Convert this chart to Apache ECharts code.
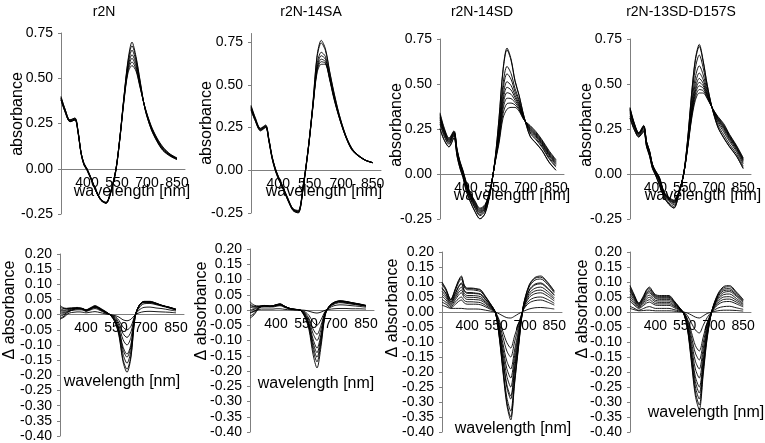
<!DOCTYPE html>
<html>
<head>
<meta charset="utf-8">
<script src="https://cdn.jsdelivr.net/npm/echarts@6/dist/echarts.min.js"></script>
<style>
html,body{margin:0;padding:0;background:#fff;}
#chart{width:765px;height:443px;}
</style>
</head>
<body>
<div id="chart"></div>
<script>
// ---------- DATA ----------
const wavelengths = [270,290,315,340,355,370,385,400,420,445,470,495,520,545,565,585,605,625,645,665,690,720,750,780,815,850];
const panelTitles = ['r2N','r2N-14SA','r2N-14SD','r2N-13SD-D157S'];
const xTickValues = [400,550,700,850];

// absorbance spectra (top row)
const r2N_abs = [
 [0.40,0.33,0.27,0.28,0.21,0.09,0.03,0.00,-0.05,-0.12,-0.17,-0.185,-0.12,0.00,0.18,0.40,0.60,0.70,0.62,0.49,0.33,0.22,0.15,0.10,0.07,0.05],
 [0.395,0.33,0.27,0.28,0.21,0.09,0.03,0.00,-0.05,-0.12,-0.17,-0.187,-0.12,0.00,0.18,0.40,0.59,0.68,0.61,0.485,0.33,0.222,0.153,0.102,0.072,0.052],
 [0.39,0.325,0.265,0.275,0.21,0.09,0.025,0.00,-0.055,-0.12,-0.17,-0.19,-0.12,0.00,0.18,0.395,0.575,0.655,0.595,0.475,0.333,0.226,0.156,0.105,0.074,0.054],
 [0.39,0.32,0.265,0.275,0.205,0.09,0.025,-0.005,-0.055,-0.12,-0.17,-0.19,-0.125,0.00,0.175,0.39,0.56,0.63,0.58,0.468,0.335,0.23,0.16,0.108,0.076,0.055],
 [0.385,0.32,0.26,0.27,0.205,0.09,0.025,-0.005,-0.055,-0.125,-0.175,-0.19,-0.125,-0.005,0.175,0.385,0.55,0.61,0.565,0.46,0.336,0.233,0.163,0.112,0.078,0.057],
 [0.38,0.315,0.26,0.27,0.20,0.085,0.02,-0.005,-0.055,-0.125,-0.175,-0.19,-0.125,-0.005,0.17,0.38,0.54,0.59,0.55,0.455,0.338,0.236,0.167,0.116,0.08,0.058],
 [0.38,0.315,0.26,0.27,0.20,0.085,0.02,-0.01,-0.06,-0.125,-0.175,-0.19,-0.13,-0.01,0.17,0.375,0.53,0.57,0.54,0.45,0.34,0.24,0.17,0.12,0.082,0.06]
];
const r2N_14SA_abs = [
 [0.38,0.31,0.245,0.265,0.185,0.085,0.015,-0.035,-0.09,-0.16,-0.225,-0.235,-0.08,0.15,0.39,0.67,0.76,0.71,0.58,0.46,0.33,0.21,0.13,0.09,0.06,0.045],
 [0.375,0.305,0.245,0.26,0.185,0.08,0.015,-0.035,-0.09,-0.165,-0.225,-0.24,-0.08,0.15,0.385,0.66,0.745,0.70,0.575,0.455,0.328,0.21,0.13,0.09,0.06,0.045],
 [0.37,0.30,0.24,0.26,0.18,0.08,0.01,-0.04,-0.095,-0.165,-0.23,-0.24,-0.085,0.15,0.38,0.62,0.69,0.665,0.555,0.44,0.32,0.205,0.128,0.088,0.06,0.045],
 [0.365,0.30,0.24,0.255,0.18,0.08,0.01,-0.04,-0.095,-0.17,-0.23,-0.245,-0.085,0.145,0.375,0.60,0.67,0.65,0.545,0.435,0.318,0.205,0.126,0.087,0.059,0.044],
 [0.36,0.295,0.235,0.255,0.175,0.075,0.005,-0.045,-0.10,-0.17,-0.23,-0.245,-0.09,0.145,0.37,0.59,0.65,0.635,0.54,0.43,0.315,0.203,0.124,0.086,0.058,0.044],
 [0.355,0.29,0.235,0.25,0.175,0.075,0.005,-0.045,-0.10,-0.17,-0.235,-0.25,-0.09,0.14,0.37,0.58,0.635,0.625,0.535,0.425,0.312,0.202,0.122,0.085,0.058,0.044],
 [0.35,0.29,0.23,0.25,0.17,0.07,0.00,-0.05,-0.10,-0.175,-0.235,-0.25,-0.095,0.14,0.365,0.57,0.62,0.62,0.53,0.42,0.31,0.20,0.12,0.085,0.058,0.044]
];
const r2N_14SD_abs = [
 [0.25,0.19,0.15,0.20,0.10,0.03,-0.02,-0.09,-0.15,-0.21,-0.25,-0.22,-0.11,0.08,0.31,0.58,0.70,0.64,0.52,0.44,0.32,0.21,0.17,0.13,0.065,0.02],
 [0.253,0.192,0.152,0.201,0.101,0.031,-0.019,-0.089,-0.149,-0.208,-0.248,-0.219,-0.109,0.079,0.306,0.572,0.69,0.632,0.515,0.437,0.319,0.212,0.172,0.132,0.067,0.022],
 [0.277,0.211,0.165,0.212,0.112,0.042,-0.008,-0.075,-0.135,-0.192,-0.232,-0.205,-0.104,0.074,0.268,0.499,0.598,0.559,0.475,0.413,0.314,0.228,0.19,0.148,0.085,0.038],
 [0.288,0.219,0.171,0.217,0.117,0.047,-0.003,-0.069,-0.129,-0.185,-0.225,-0.199,-0.102,0.072,0.251,0.467,0.557,0.527,0.457,0.402,0.312,0.235,0.197,0.155,0.092,0.045],
 [0.30,0.229,0.178,0.222,0.122,0.052,0.002,-0.062,-0.122,-0.177,-0.217,-0.192,-0.099,0.069,0.233,0.432,0.513,0.492,0.438,0.39,0.309,0.243,0.206,0.163,0.101,0.053],
 [0.308,0.235,0.182,0.226,0.126,0.056,0.006,-0.058,-0.118,-0.172,-0.212,-0.188,-0.097,0.067,0.22,0.407,0.482,0.467,0.424,0.382,0.307,0.248,0.212,0.168,0.107,0.058],
 [0.316,0.241,0.187,0.229,0.129,0.059,0.009,-0.054,-0.114,-0.166,-0.206,-0.184,-0.095,0.065,0.208,0.383,0.452,0.443,0.41,0.374,0.305,0.254,0.217,0.174,0.112,0.064],
 [0.324,0.247,0.191,0.233,0.133,0.063,0.013,-0.049,-0.109,-0.161,-0.201,-0.179,-0.094,0.064,0.195,0.359,0.421,0.419,0.397,0.366,0.304,0.259,0.223,0.179,0.118,0.069],
 [0.332,0.254,0.196,0.236,0.136,0.066,0.016,-0.045,-0.105,-0.155,-0.195,-0.175,-0.092,0.062,0.183,0.334,0.391,0.394,0.384,0.358,0.302,0.265,0.229,0.185,0.124,0.075],
 [0.34,0.26,0.20,0.24,0.14,0.07,0.02,-0.04,-0.10,-0.15,-0.19,-0.17,-0.09,0.06,0.17,0.31,0.36,0.37,0.37,0.35,0.30,0.27,0.235,0.19,0.13,0.08]
];
const r2N_13SD_D157S_abs = [
 [0.31,0.25,0.205,0.235,0.15,0.10,0.03,-0.005,-0.06,-0.13,-0.17,-0.19,-0.115,0.00,0.19,0.44,0.64,0.72,0.63,0.50,0.37,0.26,0.20,0.15,0.10,0.03],
 [0.312,0.252,0.206,0.236,0.151,0.101,0.031,-0.004,-0.058,-0.129,-0.168,-0.188,-0.114,0.00,0.188,0.434,0.631,0.709,0.623,0.497,0.37,0.262,0.203,0.153,0.102,0.032],
 [0.323,0.259,0.211,0.243,0.157,0.107,0.036,0.001,-0.05,-0.123,-0.161,-0.18,-0.112,0.00,0.179,0.409,0.589,0.661,0.59,0.482,0.37,0.273,0.218,0.165,0.113,0.043],
 [0.336,0.268,0.216,0.25,0.163,0.113,0.041,0.006,-0.04,-0.117,-0.152,-0.17,-0.108,0.00,0.168,0.378,0.539,0.601,0.551,0.465,0.37,0.286,0.235,0.181,0.126,0.056],
 [0.345,0.274,0.22,0.256,0.168,0.118,0.045,0.01,-0.033,-0.112,-0.146,-0.163,-0.106,0.00,0.16,0.357,0.504,0.561,0.524,0.453,0.37,0.295,0.247,0.191,0.135,0.065],
 [0.352,0.278,0.223,0.26,0.171,0.121,0.048,0.013,-0.029,-0.109,-0.142,-0.159,-0.105,0.00,0.155,0.342,0.479,0.531,0.504,0.444,0.37,0.302,0.256,0.199,0.142,0.072],
 [0.357,0.281,0.225,0.262,0.173,0.123,0.05,0.015,-0.025,-0.107,-0.139,-0.155,-0.103,0.00,0.151,0.331,0.461,0.509,0.49,0.438,0.37,0.307,0.262,0.205,0.147,0.077],
 [0.361,0.284,0.226,0.265,0.176,0.126,0.051,0.016,-0.022,-0.105,-0.136,-0.152,-0.102,0.00,0.148,0.321,0.445,0.49,0.477,0.432,0.37,0.311,0.268,0.21,0.151,0.081],
 [0.366,0.287,0.228,0.268,0.178,0.128,0.053,0.018,-0.018,-0.102,-0.133,-0.148,-0.101,0.00,0.144,0.31,0.426,0.469,0.463,0.426,0.37,0.316,0.274,0.215,0.156,0.086],
 [0.37,0.29,0.23,0.27,0.18,0.13,0.055,0.02,-0.015,-0.10,-0.13,-0.145,-0.10,0.00,0.14,0.30,0.41,0.45,0.45,0.42,0.37,0.32,0.28,0.22,0.16,0.09]
];

// difference spectra (bottom row)
const r2N_dabs = [
 [0.02,0.015,0.02,0.02,0.022,0.022,0.02,0.015,0.02,0.028,0.02,0.01,0.0,-0.025,-0.07,-0.155,-0.19,-0.14,-0.01,0.03,0.043,0.043,0.038,0.03,0.025,0.018],
 [0.03,0.022,0.02,0.022,0.024,0.022,0.02,0.016,0.022,0.03,0.022,0.012,0.0,-0.024,-0.066,-0.147,-0.18,-0.133,-0.01,0.03,0.044,0.044,0.038,0.031,0.025,0.018],
 [0.01,0.008,0.015,0.02,0.02,0.02,0.018,0.014,0.02,0.026,0.02,0.01,0.0,-0.02,-0.06,-0.13,-0.16,-0.118,-0.008,0.03,0.043,0.042,0.037,0.03,0.024,0.017],
 [0.025,0.02,0.022,0.023,0.022,0.021,0.019,0.015,0.02,0.027,0.02,0.01,0.0,-0.018,-0.052,-0.115,-0.14,-0.104,-0.006,0.029,0.042,0.042,0.037,0.03,0.024,0.017],
 [-0.005,0.0,0.012,0.018,0.02,0.02,0.018,0.013,0.018,0.025,0.018,0.009,0.0,-0.016,-0.048,-0.106,-0.13,-0.097,-0.005,0.028,0.042,0.041,0.036,0.03,0.024,0.017],
 [0.015,0.012,0.018,0.02,0.021,0.02,0.018,0.014,0.019,0.025,0.018,0.008,0.0,-0.012,-0.037,-0.082,-0.10,-0.075,-0.004,0.026,0.04,0.04,0.035,0.03,0.023,0.016],
 [-0.012,-0.005,0.01,0.017,0.019,0.019,0.017,0.012,0.017,0.023,0.016,0.007,0.0,-0.009,-0.028,-0.062,-0.075,-0.056,-0.003,0.022,0.036,0.037,0.033,0.028,0.022,0.015],
 [0.005,0.005,0.012,0.015,0.016,0.016,0.015,0.011,0.015,0.02,0.014,0.006,0.0,-0.006,-0.019,-0.041,-0.05,-0.038,-0.002,0.015,0.024,0.025,0.022,0.02,0.016,0.012],
 [-0.015,-0.008,0.005,0.008,0.009,0.009,0.008,0.006,0.008,0.01,0.007,0.003,0.0,-0.003,-0.008,-0.017,-0.02,-0.015,-0.001,0.006,0.01,0.011,0.01,0.009,0.008,0.006]
];
const r2N_14SA_dabs = [
 [0.02,0.012,0.012,0.015,0.014,0.013,0.014,0.017,0.02,0.012,0.005,0.002,0.0,-0.025,-0.065,-0.145,-0.19,-0.12,-0.02,0.012,0.025,0.03,0.028,0.024,0.02,0.015],
 [-0.02,-0.012,0.008,0.014,0.014,0.013,0.014,0.017,0.02,0.012,0.005,0.002,0.0,-0.022,-0.058,-0.13,-0.17,-0.107,-0.018,0.012,0.025,0.03,0.028,0.024,0.02,0.015],
 [0.027,0.016,0.013,0.015,0.014,0.013,0.014,0.017,0.019,0.011,0.005,0.002,0.0,-0.02,-0.053,-0.118,-0.155,-0.098,-0.016,0.011,0.024,0.029,0.027,0.023,0.019,0.014],
 [-0.027,-0.016,0.006,0.013,0.013,0.012,0.013,0.016,0.019,0.011,0.005,0.002,0.0,-0.018,-0.048,-0.107,-0.14,-0.088,-0.014,0.011,0.024,0.029,0.027,0.023,0.019,0.014],
 [0.01,0.006,0.011,0.014,0.013,0.012,0.013,0.016,0.018,0.011,0.004,0.002,0.0,-0.016,-0.043,-0.095,-0.125,-0.079,-0.012,0.01,0.023,0.028,0.026,0.022,0.018,0.014],
 [-0.01,-0.005,0.008,0.013,0.012,0.012,0.012,0.015,0.017,0.01,0.004,0.002,0.0,-0.013,-0.035,-0.077,-0.10,-0.063,-0.01,0.009,0.021,0.026,0.024,0.021,0.017,0.013],
 [0.015,0.01,0.011,0.013,0.012,0.011,0.012,0.014,0.016,0.01,0.004,0.001,0.0,-0.01,-0.028,-0.062,-0.08,-0.05,-0.008,0.008,0.019,0.024,0.022,0.019,0.016,0.012],
 [0.0,0.002,0.008,0.01,0.01,0.01,0.01,0.012,0.014,0.008,0.003,0.001,0.0,-0.006,-0.018,-0.039,-0.05,-0.032,-0.005,0.006,0.014,0.017,0.016,0.014,0.012,0.009],
 [-0.008,-0.004,0.002,0.003,0.003,0.003,0.003,0.004,0.004,0.002,0.001,0.0,0.0,-0.001,-0.004,-0.008,-0.01,-0.007,-0.001,0.002,0.004,0.005,0.005,0.004,0.004,0.003]
];
const r2N_14SD_dabs = [
 [0.10,0.078,0.042,0.08,0.105,0.12,0.09,0.08,0.08,0.078,0.074,0.052,0.028,0.0,-0.08,-0.20,-0.31,-0.36,-0.24,-0.12,0.02,0.09,0.115,0.12,0.10,0.07],
 [0.097,0.076,0.041,0.078,0.102,0.116,0.087,0.078,0.078,0.076,0.072,0.05,0.027,0.0,-0.078,-0.194,-0.30,-0.35,-0.233,-0.116,0.019,0.087,0.112,0.116,0.097,0.068],
 [0.092,0.072,0.039,0.074,0.097,0.11,0.083,0.074,0.074,0.072,0.068,0.048,0.026,0.0,-0.074,-0.184,-0.285,-0.33,-0.22,-0.11,0.018,0.083,0.106,0.11,0.092,0.064],
 [0.081,0.063,0.034,0.065,0.085,0.097,0.073,0.065,0.065,0.063,0.06,0.042,0.023,0.0,-0.065,-0.162,-0.251,-0.29,-0.194,-0.097,0.016,0.073,0.093,0.097,0.081,0.057],
 [0.078,0.061,0.033,0.062,0.082,0.094,0.07,0.062,0.062,0.061,0.058,0.041,0.022,0.0,-0.062,-0.156,-0.242,-0.28,-0.187,-0.094,0.016,0.07,0.09,0.094,0.078,0.055],
 [0.069,0.054,0.029,0.055,0.072,0.083,0.062,0.055,0.055,0.054,0.051,0.036,0.019,0.0,-0.055,-0.138,-0.214,-0.25,-0.166,-0.083,0.014,0.062,0.079,0.083,0.069,0.048],
 [0.061,0.048,0.026,0.049,0.064,0.073,0.055,0.049,0.049,0.048,0.045,0.032,0.017,0.0,-0.049,-0.122,-0.189,-0.22,-0.146,-0.073,0.012,0.055,0.07,0.073,0.061,0.043],
 [0.053,0.041,0.022,0.042,0.056,0.064,0.048,0.042,0.042,0.041,0.039,0.028,0.015,0.0,-0.042,-0.106,-0.164,-0.19,-0.127,-0.064,0.011,0.048,0.061,0.064,0.053,0.037],
 [0.042,0.033,0.018,0.034,0.044,0.05,0.038,0.034,0.034,0.033,0.031,0.022,0.012,0.0,-0.034,-0.084,-0.13,-0.15,-0.1,-0.05,0.008,0.038,0.048,0.05,0.042,0.029],
 [0.033,0.026,0.014,0.026,0.035,0.04,0.03,0.026,0.026,0.026,0.024,0.017,0.009,0.0,-0.026,-0.066,-0.102,-0.12,-0.08,-0.04,0.007,0.03,0.038,0.04,0.033,0.023],
 [0.023,0.018,0.012,0.012,0.012,0.012,0.011,0.01,0.01,0.01,0.009,0.006,0.003,0.0,-0.006,-0.013,-0.019,-0.02,-0.014,-0.006,0.002,0.01,0.014,0.015,0.013,0.01]
];
const r2N_13SD_D157S_dabs = [
 [0.089,0.06,0.03,0.055,0.075,0.083,0.07,0.058,0.055,0.055,0.055,0.038,0.018,-0.005,-0.06,-0.17,-0.28,-0.325,-0.21,-0.09,0.005,0.06,0.085,0.088,0.067,0.042],
 [0.085,0.057,0.029,0.052,0.072,0.079,0.067,0.055,0.052,0.052,0.052,0.036,0.017,-0.005,-0.057,-0.162,-0.267,-0.31,-0.2,-0.086,0.005,0.057,0.081,0.084,0.064,0.04],
 [0.079,0.054,0.027,0.049,0.067,0.074,0.062,0.052,0.049,0.049,0.049,0.034,0.016,-0.004,-0.054,-0.152,-0.25,-0.29,-0.187,-0.08,0.004,0.054,0.076,0.078,0.06,0.037],
 [0.074,0.05,0.025,0.046,0.062,0.069,0.058,0.048,0.046,0.046,0.046,0.032,0.015,-0.004,-0.05,-0.141,-0.232,-0.27,-0.174,-0.075,0.004,0.05,0.071,0.073,0.056,0.035],
 [0.069,0.046,0.023,0.042,0.058,0.064,0.054,0.045,0.042,0.042,0.042,0.029,0.014,-0.004,-0.046,-0.131,-0.216,-0.25,-0.162,-0.069,0.004,0.046,0.065,0.068,0.052,0.032],
 [0.06,0.041,0.02,0.037,0.051,0.056,0.047,0.039,0.037,0.037,0.037,0.026,0.012,-0.003,-0.041,-0.115,-0.19,-0.22,-0.142,-0.061,0.003,0.041,0.058,0.06,0.045,0.028],
 [0.052,0.035,0.018,0.032,0.044,0.049,0.041,0.034,0.032,0.032,0.032,0.022,0.011,-0.003,-0.035,-0.099,-0.164,-0.19,-0.123,-0.053,0.003,0.035,0.05,0.051,0.039,0.025],
 [0.044,0.029,0.015,0.027,0.037,0.041,0.034,0.028,0.027,0.027,0.027,0.019,0.009,-0.002,-0.029,-0.083,-0.137,-0.16,-0.103,-0.044,0.002,0.029,0.042,0.043,0.033,0.021],
 [0.036,0.024,0.012,0.022,0.03,0.033,0.028,0.023,0.022,0.022,0.022,0.015,0.007,-0.002,-0.024,-0.068,-0.112,-0.13,-0.084,-0.036,0.002,0.024,0.034,0.035,0.027,0.017],
 [0.019,0.013,0.006,0.012,0.016,0.018,0.015,0.012,0.012,0.012,0.012,0.008,0.004,-0.001,-0.013,-0.037,-0.06,-0.07,-0.045,-0.019,0.001,0.013,0.018,0.019,0.014,0.009],
 [0.012,0.008,0.004,0.005,0.006,0.006,0.005,0.004,0.004,0.004,0.004,0.003,0.001,0.0,-0.004,-0.01,-0.017,-0.02,-0.013,-0.005,0.0,0.004,0.006,0.006,0.005,0.003]
];

const topData = [r2N_abs, r2N_14SA_abs, r2N_14SD_abs, r2N_13SD_D157S_abs];
const botData = [r2N_dabs, r2N_14SA_dabs, r2N_14SD_dabs, r2N_13SD_D157S_dabs];

// ---------- LAYOUT ----------
const FONT = '"Liberation Sans", Arial, sans-serif';
const topGrids = [
  {left:61, top:33, width:124, height:181, max:0.75},
  {left:251, top:33.5, width:130, height:179.5, max:0.80},
  {left:440, top:39, width:124, height:180, max:0.75},
  {left:630, top:39, width:121, height:180, max:0.75}
];
const botGrids = [
  {left:60, top:254, width:124, height:183},
  {left:250, top:249, width:124, height:183},
  {left:442, top:252, width:120, height:180},
  {left:630, top:252, width:121, height:180}
];
const titlePos = [[104,12],[311,12],[482,12],[681,12]];
const topXNamePos = [[132,192],[324,192],[512,196],[703,196]];
const topYNamePos = [[18,114],[207,123],[397,125],[587,125]];
const botXNamePos = [[122,382],[316,384],[513,429],[706,413]];
const botYNamePos = [[10,310],[202,311],[393,308],[583,309]];

const grids = [], xAxes = [], yAxes = [], series = [], graphics = [];
const axisColor = '#7f7f7f';

function addPanel(g, ymin, ymax, interval, dataSet) {
  const idx = grids.length;
  grids.push({left:g.left, top:g.top, width:g.width, height:g.height, containLabel:false});
  // place the x axis (line + labels) on the zero level of the y axis
  const zeroFromBottom = g.height * (0 - ymin) / (ymax - ymin);
  xAxes.push({
    type:'value', gridIndex:idx, min:270, max:890, position:'bottom',
    offset: -zeroFromBottom,
    axisLine:{show:true, onZero:false, lineStyle:{color:axisColor, width:1}},
    axisTick:{show:false},
    splitLine:{show:false},
    axisLabel:{customValues:xTickValues, color:'#000', fontSize:14, fontFamily:FONT, margin:7}
  });
  yAxes.push({
    type:'value', gridIndex:idx, min:ymin, max:ymax, interval:interval,
    axisLine:{show:true, onZero:false, lineStyle:{color:axisColor, width:1}},
    axisTick:{show:true, inside:false, length:3, lineStyle:{color:axisColor}},
    splitLine:{show:false},
    axisLabel:{color:'#000', fontSize:14, fontFamily:FONT, margin:8,
      showMaxLabel: Math.abs(ymax/interval - Math.round(ymax/interval)) < 1e-6,
      formatter: v => v.toFixed(2)}
  });
  dataSet.forEach(curve => {
    series.push({
      type:'line', xAxisIndex:idx, yAxisIndex:idx,
      data: wavelengths.map((w,i) => [w, curve[i]]),
      showSymbol:false, smooth:0.3, silent:true,
      lineStyle:{color:'#000', width:0.9}
    });
  });
}

for (let p = 0; p < 4; p++) {
  addPanel(topGrids[p], -0.25, topGrids[p].max, 0.25, topData[p]);
}
for (let p = 0; p < 4; p++) {
  addPanel(botGrids[p], -0.40, 0.20, 0.05, botData[p]);
}

function txt(text, pos, size, rot) {
  graphics.push({
    type:'text', x:pos[0], y:pos[1], rotation: rot || 0, silent:true,
    style:{text:text, fill:'#000', font: size + 'px ' + FONT,
      textAlign:'center', textVerticalAlign:'middle', align:'center', verticalAlign:'middle'}
  });
}
for (let p = 0; p < 4; p++) {
  txt(panelTitles[p], titlePos[p], 14);
  txt('wavelength [nm]', topXNamePos[p], 16);
  txt('absorbance', topYNamePos[p], 16, Math.PI/2);
  txt('wavelength [nm]', botXNamePos[p], 16);
  txt('\u0394 absorbance', botYNamePos[p], 16, Math.PI/2);
}

const chart = echarts.init(document.getElementById('chart'), null, {renderer:'canvas'});
chart.setOption({
  animation:false,
  backgroundColor:'#fff',
  grid:grids, xAxis:xAxes, yAxis:yAxes, series:series,
  graphic:{elements:graphics}
});
</script>
</body>
</html>
